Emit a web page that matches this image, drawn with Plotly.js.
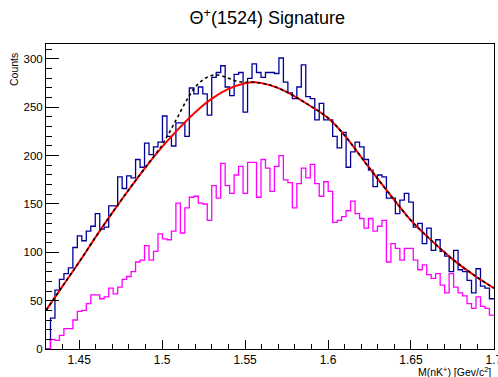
<!DOCTYPE html>
<html><head><meta charset="utf-8">
<script src="https://cdn.plot.ly/plotly-3.0.1.min.js"></script>
<style>html,body{margin:0;padding:0;background:#fff;}#chart{width:498px;height:377px;}</style>
</head><body><div id="chart"></div>
<script>
const xMin = 1.43, xMax = 1.70, nBins = 100;
const dataCounts = [0,32,61,72,78,84,105,117,112,122,127,140,124,126,148,148,178,166,179,177,
 196,188,213,201,209,214,241,220,210,234,234,220,270,264,271,264,242,281,286,293,
 271,262,284,286,245,280,295,286,281,286,286,285,301,276,265,259,271,294,261,259,
 237,254,237,237,220,208,224,188,204,214,209,196,185,168,180,178,156,156,140,154,
 161,152,126,130,109,125,102,113,101,96,80,102,82,80,71,58,83,65,63,52];
const bkgCounts = [0,10,9,14,21,21,30,39,40,47,56,56,52,54,63,57,64,72,75,80,
 90,92,107,92,101,119,114,113,122,151,120,146,157,158,151,150,133,169,156,192,
 169,161,180,189,161,193,193,157,196,187,163,189,200,175,172,146,171,187,177,191,
 171,158,173,163,131,133,137,143,153,140,135,125,135,122,127,133,90,109,104,92,
 104,104,92,82,87,77,73,78,66,58,78,64,58,55,47,42,54,44,42,35];
const fitX = [1.430,1.440,1.450,1.460,1.470,1.480,1.490,1.500,1.510,1.520,1.530,1.540,1.550,1.556,1.565,1.575,1.585,1.600,1.610,1.625,1.640,1.650,1.660,1.675,1.690,1.700];
const fitY = [40,65,90,116,141,165,188,209,228,245,259,269,275,276,273,266,256,239,221,187,154,133,116,93,74,63];
const sigX = [1.430,1.440,1.450,1.460,1.470,1.480,1.490,1.500,1.505,1.510,1.515,1.520,1.525,1.530,1.535,1.540,1.545,1.550,1.556,1.565,1.575,1.585,1.600,1.610,1.625,1.640,1.650,1.660,1.675,1.690,1.700];
const sigY = [40,65,90,116,141,165,188,211,226,242,258,271,279,283,283,280,277,276,276,273,266,256,239,221,187,154,133,116,93,74,63];
const xTicks = [1.45,1.5,1.55,1.6,1.65,1.7];
const xTickText = ['1.45','1.5','1.55','1.6','1.65','1.7'];
const yTicks = [0,50,100,150,200,250,300];

function stepTrace(counts, color){
  const w = (xMax - xMin)/nBins, xs = [], ys = [];
  counts.forEach((c,i)=>{ xs.push(xMin + i*w); ys.push(c); });
  xs.push(xMin + nBins*w); ys.push(counts[counts.length-1]);
  return {x:xs, y:ys, type:'scatter', mode:'lines', line:{shape:'hv', color:color, width:1.3}, hoverinfo:'skip'};
}
const traces = [
  stepTrace(dataCounts, '#000099'),
  stepTrace(bkgCounts, '#ff00ff'),
  {x:fitX, y:fitY, type:'scatter', mode:'lines', line:{shape:'spline', color:'#ff0000', width:2}, hoverinfo:'skip'},
  {x:sigX, y:sigY, type:'scatter', mode:'lines', line:{shape:'spline', color:'#000000', width:1.6, dash:'3px,3px'}, hoverinfo:'skip'}
];
const font = 'Liberation Sans, Arial, Helvetica, sans-serif';
const layout = {
  width:498, height:377, showlegend:false,
  paper_bgcolor:'#fff', plot_bgcolor:'#fff',
  margin:{l:46, r:4, t:44, b:28, pad:0},
  font:{family:font, color:'#000', size:11},
  title:{text:'Θ<sup>+</sup>(1524) Signature', font:{family:font, size:18, color:'#000'}, xref:'paper', x:0.494, xanchor:'center', yref:'container', y:0.952, yanchor:'middle'},
  xaxis:{range:[xMin, xMax + 0.00005], tickvals:xTicks, ticktext:xTickText, ticks:'inside', ticklen:9, tickwidth:1, tickcolor:'#000',
    showline:true, linecolor:'#000', linewidth:1, mirror:true, showgrid:false, zeroline:false, ticklabeloverflow:'allow',
    tickfont:{family:font, size:12}, minor:{dtick:0.01, tick0:1.43, ticks:'inside', ticklen:5, tickcolor:'#000', showgrid:false}},
  yaxis:{range:[0, 315.5], tickvals:yTicks, ticks:'inside', ticklen:13, tickwidth:1, tickcolor:'#000',
    showline:true, linecolor:'#000', linewidth:1, mirror:true, showgrid:false, zeroline:false,
    tickfont:{family:font, size:11.5}, minor:{dtick:10, tick0:0, ticks:'inside', ticklen:6, tickcolor:'#000', showgrid:false}},
  annotations:[
    {text:'Counts', textangle:-90, xref:'paper', yref:'paper', x:-0.0725, y:0.977, xanchor:'center', yanchor:'top', showarrow:false, font:{family:font, size:10.5}},
    {text:'M(nK<sup>+</sup>) [Gev/c<sup>2</sup>]', xref:'paper', yref:'paper', x:0.997, y:-0.074, xanchor:'right', yanchor:'middle', showarrow:false, font:{family:font, size:10.5}}
  ]
};
Plotly.newPlot('chart', traces, layout, {staticPlot:true, displayModeBar:false});
</script></body></html>
